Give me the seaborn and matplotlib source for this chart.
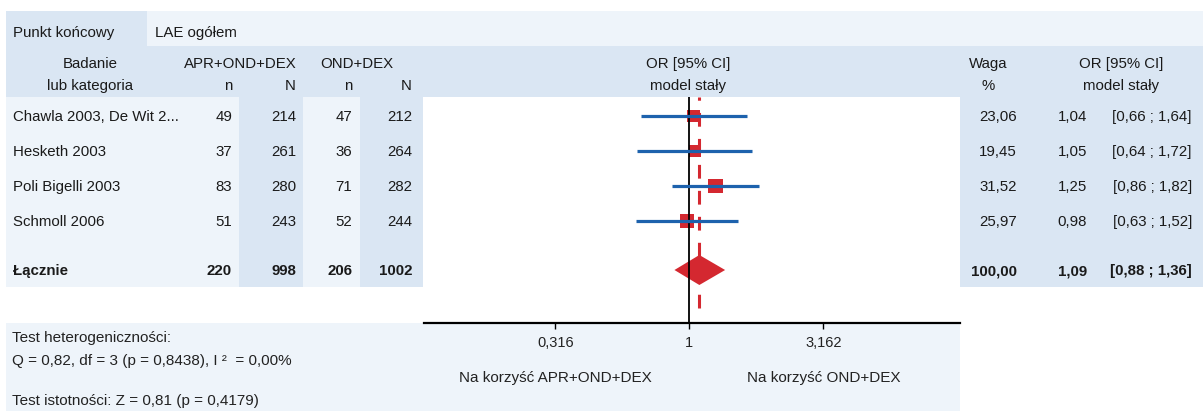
import numpy as np
import pandas as pd
import seaborn as sns
import matplotlib.pyplot as plt
from matplotlib.patches import Rectangle
from matplotlib.ticker import NullLocator

# Study rows
studies = ["Chawla 2003, De Wit 2...", "Hesketh 2003", "Poli Bigelli 2003", "Schmoll 2006"]
n_apr = [49, 37, 83, 51]
N_apr = [214, 261, 280, 243]
n_ond = [47, 36, 71, 52]
N_ond = [212, 264, 282, 244]
weights = [23.06, 19.45, 31.52, 25.97]
odds = [1.04, 1.05, 1.25, 0.98]
ci_low = [0.66, 0.64, 0.86, 0.63]
ci_high = [1.64, 1.72, 1.82, 1.52]

# Pooled row
total_label = "Łącznie"
total_counts = [220, 998, 206, 1002]
total_weight = 100.00
total_or = 1.09
total_ci = [0.88, 1.36]

tick_values = [0.316, 1, 3.162]
tick_labels = ["0,316", "1", "3,162"]

het_lines = ["Test heterogeniczności:",
             "Q = 0,82, df = 3 (p = 0,8438), I ²  = 0,00%",
             "Test istotności: Z = 0,81 (p = 0,4179)"]


def pl(v, d=2):
    return f"{v:.{d}f}".replace(".", ",")


sns.set_style("white")
plt.rcParams['font.family'] = ['Liberation Sans', 'DejaVu Sans']

W, H = 1203, 411
fig = plt.figure(figsize=(W / 100, H / 100), dpi=100)
bg = fig.add_axes([0, 0, 1, 1])
bg.set_xlim(0, W)
bg.set_ylim(H, 0)
bg.axis('off')

dark = '#dae6f3'
light = '#eef4fa'
txt = '#1a1a1a'
fs = 10.8
fs_small = 11


def box(x0, y0, x1, y1, c):
    bg.add_patch(Rectangle((x0, y0), x1 - x0, y1 - y0, facecolor=c,
                           edgecolor='none', zorder=0))


# background bands
box(6, 11, 147, 46, dark)
box(147, 11, W, 46, light)
box(6, 46, W, 97, dark)
box(6, 97, 239, 287, light)
box(239, 97, 303, 287, dark)
box(303, 97, 360, 287, light)
box(360, 97, 423, 287, dark)
box(960, 97, W, 287, dark)
box(6, 323, 960, 411, light)

# header texts
def t(x, y, s, ha='left', **kw):
    bg.text(x, y + 5, s, ha=ha, va='baseline', fontsize=fs, color=txt, **kw)


t(13, 32, "Punkt końcowy")
t(155, 32, "LAE ogółem")
t(90, 63, "Badanie", 'center')
t(90, 85, "lub kategoria", 'center')
t(240, 63, "APR+OND+DEX", 'center')
t(232, 85, "n", 'right')
t(296, 85, "N", 'right')
t(357, 63, "OND+DEX", 'center')
t(352, 85, "n", 'right')
t(412, 85, "N", 'right')
t(688, 63, "OR [95% CI]", 'center')
t(688, 85, "model stały", 'center')
t(988, 63, "Waga", 'center')
t(988, 85, "%", 'center')
t(1121, 63, "OR [95% CI]", 'center')
t(1121, 85, "model stały", 'center')

# table rows
row_pos = list(range(len(studies)))
total_pos = 4.4


def ypix(p):
    return 116 + 35 * p


for i, p in enumerate(row_pos):
    y = ypix(p)
    t(13, y, studies[i])
    t(232, y, str(n_apr[i]), 'right')
    t(296, y, str(N_apr[i]), 'right')
    t(352, y, str(n_ond[i]), 'right')
    t(412, y, str(N_ond[i]), 'right')
    t(1017, y, pl(weights[i]), 'right')
    t(1087, y, pl(odds[i]), 'right')
    t(1192, y, f"[{pl(ci_low[i])} ; {pl(ci_high[i])}]", 'right')

y = ypix(total_pos)
t(13, y, total_label, weight='bold')
for x, v in zip([232, 296, 352, 412], total_counts):
    t(x, y, str(v), 'right', weight='bold')
t(1017, y, pl(total_weight), 'right', weight='bold')
t(1087, y, pl(total_or), 'right', weight='bold')
t(1192, y, f"[{pl(total_ci[0])} ; {pl(total_ci[1])}]", 'right', weight='bold')

# bottom statistics
for s, yy in zip(het_lines, [338, 361, 401]):
    bg.text(12, yy + 4, s, ha='left', va='baseline', fontsize=fs_small, color='#222222')

# forest plot axes
ax = fig.add_axes([424 / W, (H - 323) / H, (960 - 424) / W, (323 - 97) / H])
ax.set_facecolor('none')
ax.set_xscale('log')
ax.set_xlim(10 ** -0.99, 10 ** 1.01)
ax.set_ylim((323 - 116) / 35, (97 - 116) / 35)

red = '#d42830'
blue = '#1d62ad'

ax.axvline(total_or, ymin=0.066, ymax=1, color=red, lw=2.2,
           dashes=(4.5, 4), zorder=1)

df = pd.DataFrame({'or': odds, 'pos': row_pos, 'weight': weights})
c = (0.72 * 2.67) ** 2
sns.scatterplot(data=df, x='or', y='pos', size='weight',
                sizes=(c * min(weights), c * max(weights)),
                size_norm=(min(weights), max(weights)),
                marker='s', color=red, linewidth=0, legend=False, ax=ax, zorder=2)

ax.hlines(row_pos, ci_low, ci_high, color=blue, lw=2.3, zorder=4)

h = 15 / 35
ax.fill([total_ci[0], total_or, total_ci[1], total_or],
        [total_pos, total_pos - h, total_pos, total_pos + h],
        color=red, lw=0, zorder=2)

ax.axvline(1, color='black', lw=1.3, zorder=3)

for side in ['top', 'left', 'right']:
    ax.spines[side].set_visible(False)
ax.spines['bottom'].set_color('black')
ax.spines['bottom'].set_linewidth(1.6)
ax.set_yticks([])
ax.set_xticks(tick_values)
ax.set_xticklabels(tick_labels)
ax.xaxis.set_minor_locator(NullLocator())
ax.tick_params(axis='x', direction='out', length=4.5, width=1, pad=5,
               labelsize=10.5, labelcolor='#222222', color='black', bottom=True)
ax.set_xlabel('')
ax.set_ylabel('')

xt = ax.get_xaxis_transform()
frac = (323 - 382) / (323 - 97)
ax.text(tick_values[0], frac, "Na korzyść APR+OND+DEX", transform=xt,
        ha='center', va='baseline', fontsize=fs_small, color='#222222')
ax.text(tick_values[2], frac, "Na korzyść OND+DEX", transform=xt,
        ha='center', va='baseline', fontsize=fs_small, color='#222222')

fig.savefig("out.png", dpi=100)
